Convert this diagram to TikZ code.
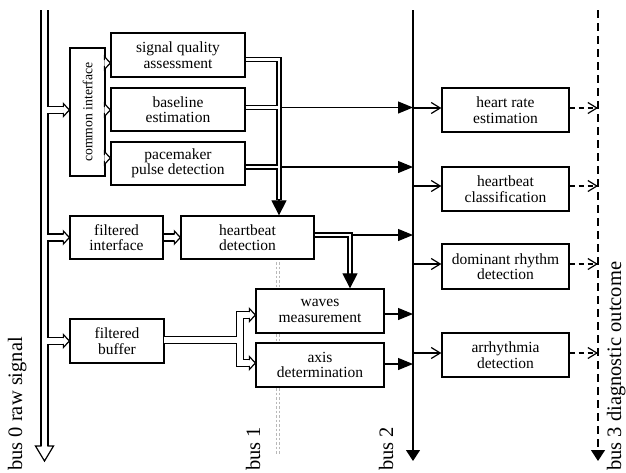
\documentclass[tikz,border=0pt]{standalone}
\usepackage{fontspec}
\setmainfont{Liberation Serif}
\usetikzlibrary{arrows.meta}
\newcommand\harrow[4]{%
  \begin{scope}[shift={(#1)}, rotate=#2]
    \fill[white] (-#3,-#4) -- (0,0) -- (-#3,#4) -- cycle;
    \draw[line width=1.2pt, line join=miter] (-#3,-2.9) -- (-#3,-#4) -- (0,0) -- (-#3,#4) -- (-#3,2.9);
  \end{scope}}
\begin{document}
\begin{tikzpicture}[x=1pt,y=-1pt,
  box/.style={draw, line width=1.3pt, fill=white, align=center, inner sep=0pt,
    font=\fontsize{15.5}{15.5}\selectfont},
  lbl/.style={rotate=90, anchor=base west, inner sep=0pt, font=\fontsize{20.5}{22}\selectfont},
  conn/.style={line width=1.2pt},
  fillarrow/.style={conn, -{Triangle[length=15pt,width=12pt]}},
  bigarrow/.style={conn, -{Triangle[length=15pt,width=15pt]}},
  openarrow/.style={conn, -{Straight Barb[length=9pt,width=11pt]}},
  dasharrow/.style={conn, dash pattern=on 5pt off 4pt, -{Straight Barb[length=9pt,width=11pt]}},
  busend/.style={conn, -{Triangle[length=11pt,width=14pt]}},
  bus1line/.style={gray!55, line width=0.8pt, dash pattern=on 2.5pt off 2pt}
]
\useasboundingbox (0,0) rectangle (626,472);

% bus 1 (behind boxes)
\coordinate (b1ta) at (276,262);
\coordinate (b1ba) at (276,455);
\coordinate (b1tb) at (279.5,262);
\coordinate (b1bb) at (279.5,455);
\draw[bus1line] (b1ta) -- (b1ba);
\draw[bus1line] (b1tb) -- (b1bb);

% boxes
\node[box, minimum width=35pt, minimum height=128pt] (ci) at (87.5,112) {};
\node[rotate=90, inner sep=0pt, font=\fontsize{13.7}{14}\selectfont] (citext) at (ci.center) {common interface};
\node[box, minimum width=134pt, minimum height=44pt] (sqa) at (178,55) {signal quality\\assessment};
\node[box, minimum width=134pt, minimum height=43pt] (base) at (178,109.5) {baseline\\estimation};
\node[box, minimum width=134pt, minimum height=43pt] (pace) at (178,163.5) {pacemaker\\pulse detection};
\node[box, minimum width=93pt, minimum height=43pt] (fi) at (116.5,237.5) {filtered\\interface};
\node[box, minimum width=133pt, minimum height=43pt] (hd) at (247.5,237.5) {heartbeat\\detection};
\node[box, minimum width=94pt, minimum height=44pt] (fb) at (117,341) {filtered\\buffer};
\node[box, minimum width=128pt, minimum height=44pt] (wm) at (320,311) {waves\\measurement};
\node[box, minimum width=128pt, minimum height=44pt] (ad) at (320,365) {axis\\determination};
\node[box, minimum width=127pt, minimum height=44pt] (hre) at (505.5,110) {heart rate\\estimation};
\node[box, minimum width=127pt, minimum height=44pt] (hc) at (505.5,189) {heartbeat\\classification};
\node[box, minimum width=127pt, minimum height=45pt] (drd) at (505.5,266.5) {dominant rhythm\\detection};
\node[box, minimum width=127pt, minimum height=44pt] (arr) at (505.5,355) {arrhythmia\\detection};

% bus coordinates
\coordinate (b0top) at (44.5,10);
\coordinate (b0base) at (44.5,446);
\coordinate (b0tip) at (44.5,461);
\coordinate (b2top) at (413,10);
\coordinate (b2bot) at (413,461);
\coordinate (b3top) at (598,10);
\coordinate (b3bot) at (598,461);

% bus 0 with its branches (hollow double lines)
\coordinate (j1) at (44.5,110);
\coordinate (j2) at (44.5,237.5);
\coordinate (j3) at (44.5,341);
\coordinate (t1) at (ci.west |- j1);
\coordinate (t2) at (fi.west |- j2);
\coordinate (t3) at (fb.west |- j3);
\coordinate (fio) at (fi.east);
\coordinate (t4) at (hd.west);
\coordinate (fbo) at (164,340);
\coordinate (fk) at (240,340);
\coordinate (fku) at (240,315);
\coordinate (fkd) at (240,363);
\coordinate (t5) at (wm.west |- fku);
\coordinate (t6) at (ad.west |- fkd);
\foreach \w/\c in {8.4/black, 5.8/white}{
  \draw[line width=\w pt, \c] (b0top) -- (b0base);
  \draw[line width=\w pt, \c] (j1) -- ([xshift=-6pt]t1);
  \draw[line width=\w pt, \c] (j2) -- ([xshift=-6pt]t2);
  \draw[line width=\w pt, \c] (j3) -- ([xshift=-6pt]t3);
  \draw[line width=\w pt, \c] (fio) -- ([xshift=-6pt]t4);
  \draw[line width=\w pt, \c] (fbo) -- (fk);
  \draw[line width=\w pt, \c, line join=miter] ([xshift=-6pt]t5) -- (fku) -- (fkd) -- ([xshift=-6pt]t6);
}
\harrow{b0tip}{-90}{15}{9}
\harrow{t1}{0}{6}{6.5}
\harrow{t2}{0}{6}{6.5}
\harrow{t3}{0}{6}{6.5}
\harrow{t4}{0}{6}{6.5}
\harrow{t5}{0}{6}{6.5}
\harrow{t6}{0}{6}{6.5}
% common interface to the three boxes
\coordinate (c1) at (sqa.west |- 0,63);
\coordinate (c2) at (base.west |- 0,110);
\coordinate (c3) at (pace.west |- 0,158);
\harrow{c1}{0}{6}{6.5}
\harrow{c2}{0}{6}{6.5}
\harrow{c3}{0}{6}{6.5}

% bus 2 and bus 3
\draw[busend] (b2top) -- (b2bot);
\draw[busend, dash pattern=on 8pt off 5pt] (b3top) -- (b3bot);

% thin double network
\coordinate (s1) at (sqa.east |- 0,59.5);
\coordinate (s1c) at (279,59.5);
\coordinate (s1b) at (279,200);
\coordinate (s2) at (base.east |- 0,107.5);
\coordinate (s2j) at (279,107.5);
\coordinate (s3) at (pace.east |- 0,167);
\coordinate (s3j) at (279,167);
\coordinate (h1) at (hd.east |- 0,235);
\coordinate (h1c) at (350,235);
\coordinate (h1b) at (350,275);
\draw[fillarrow] (s2j) -- (b2top |- s2j);
\draw[fillarrow] (s3j) -- (b2top |- s3j);
\draw[fillarrow] (h1c) -- (b2top |- h1c);
\foreach \w/\c in {5.2/black, 2.6/white}{
  \draw[line width=\w pt, \c, line join=miter] (s1) -- (s1c) -- (s1b);
  \draw[line width=\w pt, \c] (s2) -- (s2j);
  \draw[line width=\w pt, \c] (s3) -- (s3j);
  \draw[line width=\w pt, \c, line join=miter] (h1) -- (h1c) -- (h1b);
}
\draw[bigarrow] ([yshift=1pt]s1b) -- (hd.north -| s1b);
\draw[bigarrow] ([yshift=1pt]h1b) -- (wm.north -| h1b);

% waves and axis to bus 2
\draw[fillarrow] (wm.east |- 0,314) -- (b2top |- 0,314);
\draw[fillarrow] (ad.east |- 0,364) -- (b2top |- 0,364);

% bus 2 to right boxes, right boxes to bus 3
\draw[openarrow] (b2top |- 0,108) -- (hre.west |- 0,108);
\draw[openarrow] (b2top |- 0,186) -- (hc.west |- 0,186);
\draw[openarrow] (b2top |- 0,264) -- (drd.west |- 0,264);
\draw[openarrow] (b2top |- 0,353) -- (arr.west |- 0,353);
\draw[dasharrow] (hre.east |- 0,108) -- (b3top |- 0,108);
\draw[dasharrow] (hc.east |- 0,186) -- (b3top |- 0,186);
\draw[dasharrow] (drd.east |- 0,264) -- (b3top |- 0,264);
\draw[dasharrow] (arr.east |- 0,353) -- (b3top |- 0,353);

% labels
\node[lbl] (l0) at (22,471) {bus 0 raw signal};
\node[lbl] (l1) at (260,471) {bus 1};
\node[lbl] (l2) at (393,471) {bus 2};
\node[lbl] (l3) at (621,471) {bus 3 diagnostic outcome};
\end{tikzpicture}
\end{document}
